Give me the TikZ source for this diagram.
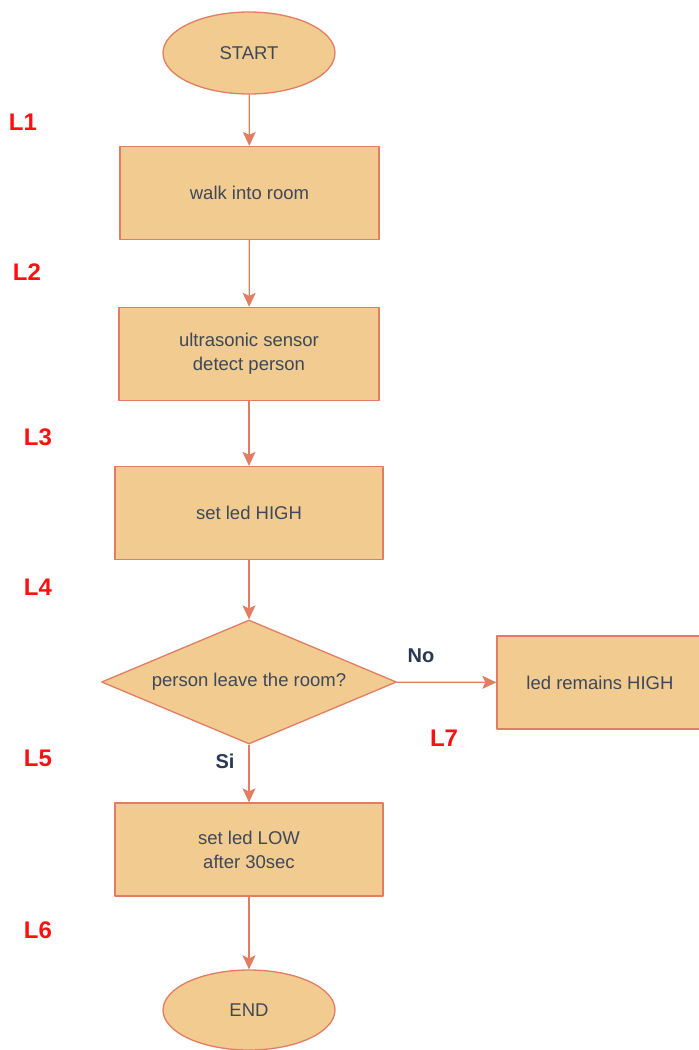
\documentclass[tikz,border=0pt]{standalone}
\usepackage{fontspec}
\setmainfont{Liberation Sans}
\usetikzlibrary{shapes.geometric,arrows.meta}
\definecolor{boxfill}{HTML}{F1CB8F}
\definecolor{boxline}{HTML}{E27D62}
\definecolor{txtgray}{HTML}{3E4859}
\definecolor{lblnavy}{HTML}{283850}
\definecolor{lblred}{HTML}{FF1010}
\begin{document}
\begin{tikzpicture}[x=1pt, y=-1pt, line join=round,
  every node/.style={text=txtgray, font=\fontsize{18.5}{24}\selectfont, inner sep=0pt, align=center},
  term/.style={ellipse, draw=boxline, fill=boxfill, line width=1.3pt, minimum width=172pt, minimum height=82pt},
  proc/.style={rectangle, draw=boxline, fill=boxfill, line width=1.3pt, minimum height=93pt},
  decision/.style={diamond, draw=boxline, fill=boxfill, line width=1.3pt, aspect=2.38, minimum width=295pt, minimum height=124pt},
  flow/.style={draw=boxline, line width=1.3pt, -{Stealth[length=14pt, width=13pt, inset=3pt]}},
  linelbl/.style={text=lblred, font=\fontsize{24}{28}\selectfont\bfseries},
  branch/.style={text=lblnavy, font=\fontsize{20}{24}\selectfont\bfseries}]
\useasboundingbox (0,0) rectangle (699,1050);
\node[term] (start) at (249,53) {START};
\node[proc, minimum width=259pt] (walk) at (249.5,193) {walk into room};
\node[proc, minimum width=260pt] (detect) at (249,354) {ultrasonic sensor\\ detect person};
\node[proc, minimum width=268pt] (high) at (249,513) {set led HIGH};
\node[decision] (leave) at (249,682) {person leave the room?};
\node[proc, minimum width=206pt] (remain) at (600,682.5) {led remains HIGH};
\node[proc, minimum width=268pt] (low) at (249,849.5) {set led LOW\\after 30sec};
\node[term, minimum height=80pt] (end) at (249,1010) {END};
\draw[flow] (start) -- (walk);
\draw[flow] (walk) -- (detect);
\draw[flow] (detect) -- (high);
\draw[flow] (high) -- (leave);
\draw[flow] (leave) -- (remain);
\draw[flow] (leave) -- (low);
\draw[flow] (low) -- (end);
\node[branch] (no) at (421,656) {No};
\node[branch] (si) at (225,761) {Si};
\node[linelbl] (l1) at (23,122) {L1};
\node[linelbl] (l2) at (27,272) {L2};
\node[linelbl] (l3) at (38,437) {L3};
\node[linelbl] (l4) at (38,587) {L4};
\node[linelbl] (l5) at (38,758) {L5};
\node[linelbl] (l6) at (38,930) {L6};
\node[linelbl] (l7) at (444,738) {L7};
\end{tikzpicture}
\end{document}
